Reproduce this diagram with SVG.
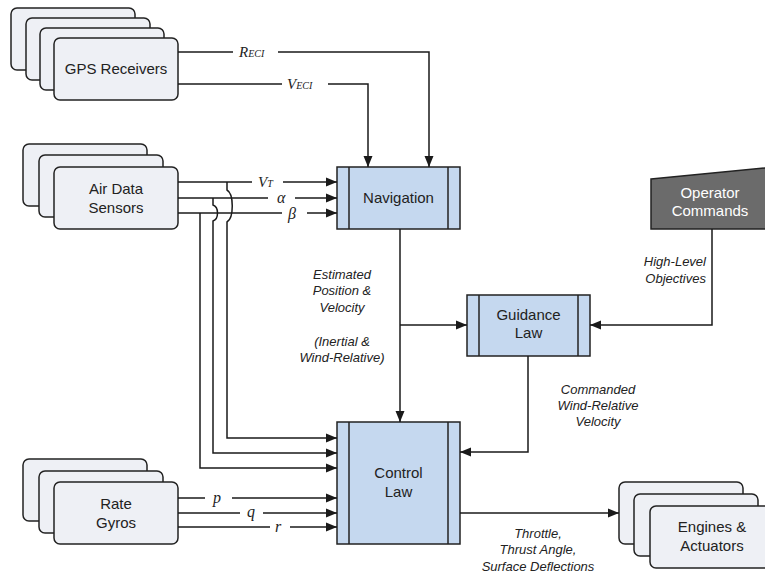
<svg xmlns="http://www.w3.org/2000/svg" width="765" height="575" viewBox="0 0 765 575">
<style>
.card{fill:#eef0f5;stroke:#222;stroke-width:1.5}
.blk{fill:#c5d8ef;stroke:#222;stroke-width:1.5}
.div{stroke:#222;stroke-width:1.5}
.lbl{font-family:"Liberation Sans",Arial,sans-serif;font-size:15px;fill:#222;text-anchor:middle}
.it{font-family:"Liberation Sans",Arial,sans-serif;font-size:13px;font-style:italic;fill:#222;text-anchor:middle}
.m{font-family:"Liberation Serif","Times New Roman",serif;font-style:italic;fill:#222}
.wire{fill:none;stroke:#1a1a1a;stroke-width:1.5}
.arr{fill:none;stroke:#1a1a1a;stroke-width:1.5;marker-end:url(#ah)}
</style>
<defs>
<marker id="ah" markerUnits="userSpaceOnUse" markerWidth="12" markerHeight="10" refX="11" refY="5" orient="auto">
<path d="M0,0.5 L11,5 L0,9.5 z" fill="#1a1a1a"/>
</marker>
</defs>
<rect width="765" height="575" fill="#fff"/>

<g id="gps">
<rect class="card" x="11" y="8" width="124" height="62" rx="6"/>
<rect class="card" x="26" y="18" width="124" height="62" rx="6"/>
<rect class="card" x="40" y="28" width="124" height="62" rx="6"/>
<rect class="card" x="54" y="38" width="124" height="62" rx="6"/>
<text class="lbl" x="116" y="74">GPS Receivers</text>
</g>

<g id="airdata">
<rect class="card" x="23" y="144" width="124" height="62" rx="6"/>
<rect class="card" x="39" y="155" width="124" height="62" rx="6"/>
<rect class="card" x="54" y="167" width="124" height="62" rx="6"/>
<text class="lbl" x="116" y="194">Air Data</text>
<text class="lbl" x="116" y="213">Sensors</text>
</g>

<g id="rategyros">
<rect class="card" x="23" y="459" width="124" height="62" rx="6"/>
<rect class="card" x="39" y="471" width="124" height="62" rx="6"/>
<rect class="card" x="54" y="482" width="124" height="62" rx="6"/>
<text class="lbl" x="116" y="509">Rate</text>
<text class="lbl" x="116" y="528">Gyros</text>
</g>

<g id="engines">
<rect class="card" x="619" y="482" width="124" height="62" rx="6"/>
<rect class="card" x="634" y="494" width="124" height="62" rx="6"/>
<rect class="card" x="650" y="506" width="124" height="62" rx="6"/>
<text class="lbl" x="712" y="532">Engines &amp;</text>
<text class="lbl" x="712" y="551">Actuators</text>
</g>

<g id="navigation">
<rect class="blk" x="337" y="167" width="123" height="62"/>
<line class="div" x1="349" y1="167" x2="349" y2="229"/>
<line class="div" x1="448" y1="167" x2="448" y2="229"/>
<text class="lbl" x="398.5" y="203">Navigation</text>
</g>

<g id="guidance">
<rect class="blk" x="467" y="295" width="123" height="61"/>
<line class="div" x1="479" y1="295" x2="479" y2="356"/>
<line class="div" x1="578" y1="295" x2="578" y2="356"/>
<text class="lbl" x="528.5" y="320">Guidance</text>
<text class="lbl" x="528.5" y="338">Law</text>
</g>

<g id="control">
<rect class="blk" x="337" y="422" width="123" height="122"/>
<line class="div" x1="349" y1="422" x2="349" y2="544"/>
<line class="div" x1="448" y1="422" x2="448" y2="544"/>
<text class="lbl" x="398.5" y="478">Control</text>
<text class="lbl" x="398.5" y="497">Law</text>
</g>

<g id="operator">
<polygon points="651,179 775,167 775,229 651,229" fill="#6b6b6b" stroke="#222" stroke-width="1.5"/>
<text class="lbl" x="710" y="198" style="fill:#fff">Operator</text>
<text class="lbl" x="710" y="216" style="fill:#fff">Commands</text>
</g>

<g id="connectors">
<path class="wire" d="M178,52 H233"/>
<path class="arr" d="M278,52 H429 V167"/>
<path class="wire" d="M178,84 H282"/>
<path class="arr" d="M328,84 H368 V167"/>
<path class="wire" d="M178,182 H252"/>
<path class="arr" d="M283,182 H337"/>
<path class="wire" d="M178,198 H268"/>
<path class="arr" d="M295,198 H337"/>
<path class="wire" d="M178,213 H282"/>
<path class="arr" d="M307,213 H337"/>
<path class="arr" d="M227,182 V190 C234,194 234,218 227,222 V438 H337"/>
<path class="arr" d="M213,198 V205 C219,207 219,219 213,221 V453 H337"/>
<path class="arr" d="M200,213 V468 H337"/>
<path class="wire" d="M178,498 H205"/>
<path class="arr" d="M232,498 H337"/>
<path class="wire" d="M178,513 H240"/>
<path class="arr" d="M263,513 H337"/>
<path class="wire" d="M178,527 H270"/>
<path class="arr" d="M290,527 H337"/>
<path class="arr" d="M400,229 V422"/>
<path class="arr" d="M400,325 H467"/>
<path class="arr" d="M712,229 V325 H590"/>
<path class="arr" d="M528,356 V452 H460"/>
<path class="arr" d="M460,513 H619"/>
</g>

<g id="labels">
<text class="m" x="239" y="57"><tspan font-size="15">R</tspan><tspan font-size="10">ECI</tspan></text>
<text class="m" x="287" y="89"><tspan font-size="15">V</tspan><tspan font-size="10">ECI</tspan></text>
<text class="m" x="258" y="187"><tspan font-size="15">V</tspan><tspan font-size="10">T</tspan></text>
<text class="m" x="277" y="203" font-size="16">α</text>
<text class="m" x="288" y="219" font-size="16">β</text>
<text class="m" x="213" y="503" font-size="16">p</text>
<text class="m" x="247" y="517" font-size="16">q</text>
<text class="m" x="275" y="532" font-size="16">r</text>
<text class="it" x="342" y="279">Estimated</text>
<text class="it" x="342" y="295">Position &amp;</text>
<text class="it" x="342" y="312">Velocity</text>
<text class="it" x="342" y="346">(Inertial &amp;</text>
<text class="it" x="342" y="362">Wind-Relative)</text>
<text class="it" x="706" y="266" style="text-anchor:end">High-Level</text>
<text class="it" x="706" y="283" style="text-anchor:end">Objectives</text>
<text class="it" x="598" y="394">Commanded</text>
<text class="it" x="598" y="410">Wind-Relative</text>
<text class="it" x="598" y="426">Velocity</text>
<text class="it" x="538" y="538">Throttle,</text>
<text class="it" x="538" y="554">Thrust Angle,</text>
<text class="it" x="538" y="571">Surface Deflections</text>
</g>
</svg>
